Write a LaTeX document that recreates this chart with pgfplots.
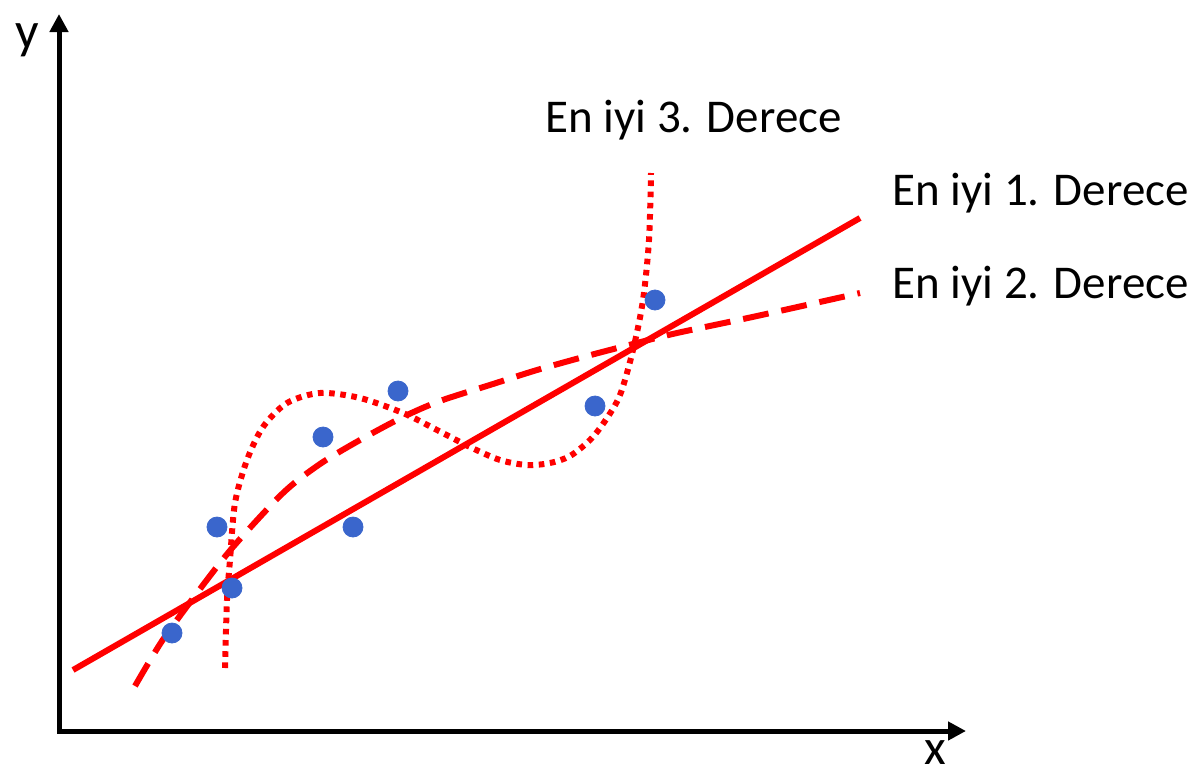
\documentclass[border=0pt]{standalone}
\usepackage{pgfplots}
\pgfplotsset{compat=1.18}
\usepackage{fontspec}
\setmainfont{Carlito}
\usetikzlibrary{arrows.meta}
\definecolor{dotblue}{HTML}{3A66CC}
\definecolor{fitred}{HTML}{FF0000}
\begin{document}
\begin{tikzpicture}
\begin{axis}[
  scale only axis, width=596.5pt, height=388pt,
  xmin=0, xmax=1193, ymin=0, ymax=776, y dir=reverse,
  hide axis, clip=false,
]
% invisible frame
\addplot[draw=none, forget plot] coordinates {(0,0) (1193,776)};
% axes
\addplot[black, line width=2.5pt, -{Triangle[length=9pt,width=9pt]}] coordinates {(59,733) (59,14)};
\addplot[black, line width=2.5pt, -{Triangle[length=9pt,width=9pt]}] coordinates {(57,731) (966,731)};
% degree 1
\addplot[fitred, line width=3pt] coordinates {(73,670) (860,218)};
% degree 2
\addplot[fitred, line width=3pt, dash pattern=on 13pt off 6.5pt, smooth] coordinates {
(135,686) (162,641) (197,593) (233,547) (283,493) (320,464) (360,440) (403,417) (440,401) (493,384) (537,370) (587,356) (633,344) (677,333) (757,316) (860,293)};
% degree 3
\addplot[fitred, line width=3pt, dash pattern=on 2.8pt off 2.8pt, smooth] coordinates {
(225,668) (227,600) (230,560) (235,503) (247,460) (263,427) (287,403) (320,393) (360,398) (403,413) (437,430) (470,447) (500,460) (527,465) (550,463) (570,456) (590,440) (605,421) (620,395) (633,350) (643,300) (649,240) (651,173)};
% data points
\addplot[only marks, mark=*, mark size=5pt, mark options={draw=dotblue, fill=dotblue}] coordinates {
(172,633) (217,527) (232,588) (323,437) (353,527) (398,391) (595,406) (655,300)};
% labels
\node[anchor=base west, inner sep=0pt, font=\fontsize{23.5}{28}\selectfont] at (axis cs:545,132) {En iyi 3. Derece};
\node[anchor=base west, inner sep=0pt, font=\fontsize{23.5}{28}\selectfont] at (axis cs:892,205) {En iyi 1. Derece};
\node[anchor=base west, inner sep=0pt, font=\fontsize{23.5}{28}\selectfont] at (axis cs:892,298) {En iyi 2. Derece};
\node[anchor=base, inner sep=0pt, font=\fontsize{26}{30}\selectfont] at (axis cs:27,48) {y};
\node[anchor=base, inner sep=0pt, font=\fontsize{25}{30}\selectfont] at (axis cs:935,764) {x};
\end{axis}
\end{tikzpicture}
\end{document}
